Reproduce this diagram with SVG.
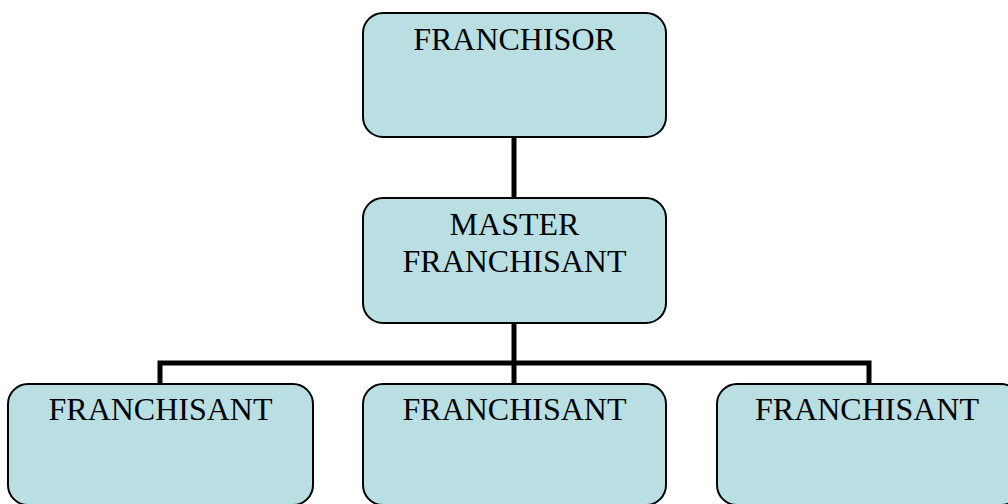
<svg xmlns="http://www.w3.org/2000/svg" width="1008" height="504" viewBox="0 0 1008 504">
<style>
.box{fill:#B9DFE3;stroke:#000;stroke-width:2}
.lbl{font-family:"Liberation Serif","Times New Roman",serif;font-size:32px;fill:#000;text-anchor:middle}
.conn{stroke:#000;stroke-width:5;fill:none}
</style>
<rect width="1008" height="504" fill="#fff"/>
<g id="connectors">
<line class="conn" x1="514" y1="137" x2="514" y2="198"/>
<line class="conn" x1="514" y1="323" x2="514" y2="384"/>
<polyline class="conn" points="160,384 160,363 869,363 869,384"/>
</g>
<g id="franchisor">
<rect class="box" x="363" y="13" width="303" height="124" rx="20"/>
<text class="lbl" x="514.5" y="50">FRANCHISOR</text>
</g>
<g id="master">
<rect class="box" x="363" y="198" width="303" height="125" rx="20"/>
<text class="lbl" x="514.5" y="235">MASTER</text>
<text class="lbl" x="514.5" y="272">FRANCHISANT</text>
</g>
<g id="franchisant1">
<rect class="box" x="8" y="384" width="305" height="121" rx="20"/>
<text class="lbl" x="160.5" y="420">FRANCHISANT</text>
</g>
<g id="franchisant2">
<rect class="box" x="363" y="384" width="303" height="121" rx="20"/>
<text class="lbl" x="514.5" y="420">FRANCHISANT</text>
</g>
<g id="franchisant3">
<rect class="box" x="717" y="384" width="304" height="121" rx="20"/>
<text class="lbl" x="867" y="420">FRANCHISANT</text>
</g>
</svg>
